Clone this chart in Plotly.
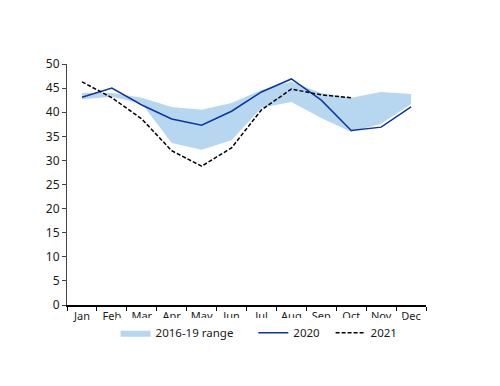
import plotly.graph_objects as go

months = ["Jan", "Feb", "Mar", "Apr", "May", "Jun", "Jul", "Aug", "Sep", "Oct", "Nov", "Dec"]
range_low = [42.7, 43.2, 41.8, 33.6, 32.2, 34.2, 40.9, 42.1, 38.8, 35.9, 37.6, 41.7]
range_high = [44.0, 44.0, 43.0, 41.1, 40.5, 41.9, 44.6, 46.3, 44.0, 43.0, 44.2, 43.8]
s2020 = [43.1, 45.0, 41.5, 38.6, 37.3, 40.2, 44.2, 46.9, 42.5, 36.2, 36.9, 41.1]
s2021 = [46.3, 43.0, 38.6, 32.0, 28.8, 32.6, 40.5, 44.8, 43.6, 43.0]

fig = go.Figure()
fig.add_trace(go.Scatter(x=months, y=range_low, mode="lines", line=dict(width=0, color="#b7d6f0"),
                         showlegend=False, hoverinfo="skip"))
fig.add_trace(go.Scatter(x=months, y=range_high, mode="lines", line=dict(width=0, color="#b7d6f0"),
                         fill="tonexty", fillcolor="#b7d6f0", name="2016-19 range" + "\u00a0" * 5))
fig.add_trace(go.Scatter(x=months, y=s2020, mode="lines", line=dict(width=1.5, color="#0a36a0"),
                         name="2020" + "\u00a0" * 2))
fig.add_trace(go.Scatter(x=months[:len(s2021)], y=s2021, mode="lines",
                         line=dict(width=1.5, color="#000000", dash="4px,2px"), name="2021"))

fig.update_layout(
    width=500, height=386,
    margin=dict(l=59, r=82, t=56, b=89, autoexpand=False),
    paper_bgcolor="white", plot_bgcolor="white",
    font=dict(family="Noto Sans", size=11, color="#1a1a1a"),
    legend=dict(orientation="h", x=0.535, xanchor="center", y=-0.115, yanchor="middle",
                font=dict(size=11.5), traceorder="normal", itemwidth=30, tracegroupgap=0),
    xaxis=dict(range=[-0.5, 11.5], showline=True, linecolor="#000000", linewidth=1.5, ticks="outside", ticklen=4,
               tickcolor="#000000", tickson="boundaries", tickangle=0, showgrid=False, automargin=False),
    yaxis=dict(range=[0, 50], dtick=5, showline=True, linecolor="#444444", linewidth=1,
               ticks="outside", ticklen=4, tickcolor="#444444", showgrid=False, zeroline=False,
               automargin=False, tickfont=dict(size=12)),
)
fig.write_html("out.html")
